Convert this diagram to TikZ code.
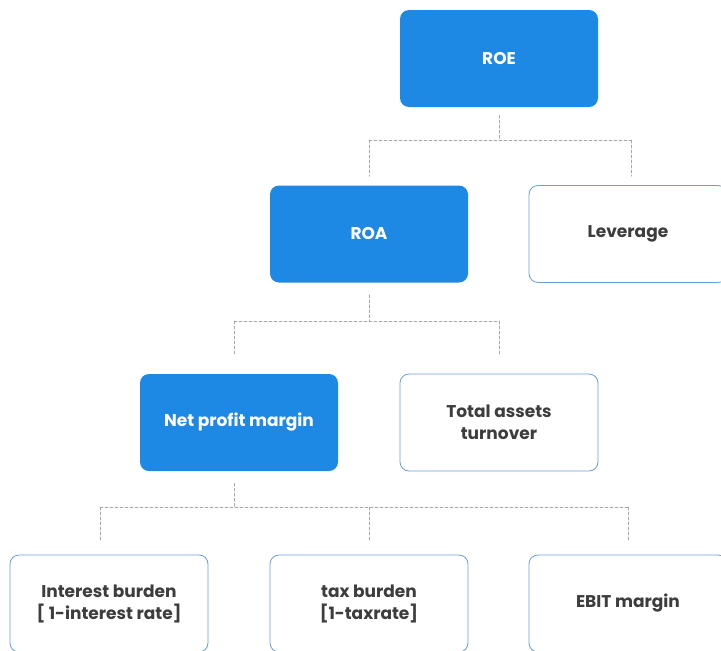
\documentclass[tikz,border=0pt]{standalone}
\usepackage{fontspec}
\setmainfont{Poppins}
\definecolor{boxblue}{HTML}{1E88E5}
\definecolor{edgeblue}{HTML}{6A9FD8}
\definecolor{txtgray}{HTML}{3D3D3D}
\definecolor{dashgray}{HTML}{A8A8A8}
\tikzset{
  kpi/.style={rectangle, rounded corners=9pt, minimum width=198pt, minimum height=97pt, align=center, inner sep=0pt},
  bluebox/.style={kpi, fill=boxblue, text=white},
  whitebox/.style={kpi, draw=edgeblue, line width=0.8pt, fill=white, text=txtgray},
  link/.style={draw=dashgray, line width=0.7pt, dash pattern=on 3pt off 2pt}
}
\begin{document}
\begin{tikzpicture}[x=1pt, y=-1pt, font=\bfseries\fontsize{17}{22}\selectfont, line join=round, line cap=round]
\useasboundingbox (0,0) rectangle (721,651);
\node[bluebox] (ROE) at (499,58.5) {ROE};
\node[bluebox] (ROA) at (369,234) {ROA};
\node[whitebox] (Lev) at (628,234) {Leverage};
\node[bluebox] (NPM) at (239,422.5) {Net profit margin};
\node[whitebox] (TAT) at (499,422.5) {Total assets\\turnover};
\node[whitebox] (IB) at (109,603.5) {Interest burden\\{[} 1-interest rate]};
\node[whitebox] (TB) at (369,603.5) {tax burden\\{[}1-taxrate]};
\node[whitebox] (EM) at (628,603.5) {EBIT margin};
\path
(499,140) coordinate (R2)
(369,321) coordinate (A2)
(234,507) coordinate (N2)
;
% ROE -> ROA, Leverage
\draw[link, shorten <=8pt] (ROE.south) -- (R2);
\draw[link] (ROA.north |- R2) -- ([xshift=3pt]Lev.north |- R2);
\foreach \n/\d in {ROA/0,Lev/3}
\draw[link, shorten >=9pt] ([xshift=\d pt]\n.north |- R2) -- ([xshift=\d pt]\n.north);
% ROA -> NPM, TAT
\draw[link, shorten <=12pt] (ROA.south) -- (A2);
\draw[link] ([xshift=-5pt]NPM.north |- A2) -- (TAT.north |- A2);
\foreach \n/\d in {NPM/-5,TAT/0}
\draw[link, shorten >=18pt] ([xshift=\d pt]\n.north |- A2) -- ([xshift=\d pt]\n.north);
% NPM -> IB, TB, EM
\draw[link, shorten <=12pt] ([xshift=-5pt]NPM.south) -- (N2);
\draw[link] ([xshift=-9pt]IB.north |- N2) -- (EM.north |- N2);
\foreach \n/\d in {IB/-9,TB/0,EM/0}
\draw[link, shorten >=13pt] ([xshift=\d pt]\n.north |- N2) -- ([xshift=\d pt]\n.north);
\end{tikzpicture}
\end{document}
